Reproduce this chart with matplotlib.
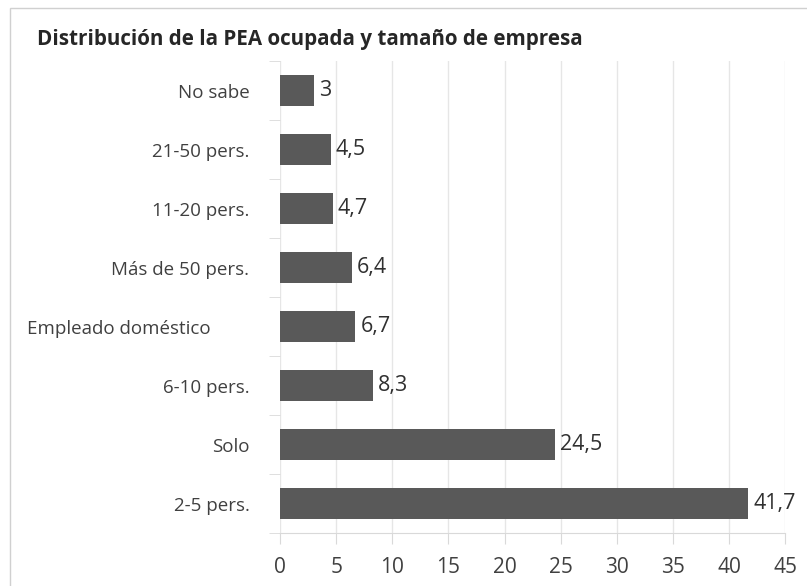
import matplotlib.pyplot as plt
from matplotlib.patches import Rectangle
from matplotlib.transforms import ScaledTranslation

categorias = ["No sabe", "21-50 pers.", "11-20 pers.", "Más de 50 pers.",
              "Empleado doméstico", "6-10 pers.", "Solo", "2-5 pers."]
valores = [3, 4.5, 4.7, 6.4, 6.7, 8.3, 24.5, 41.7]
etiquetas = ["3", "4,5", "4,7", "6,4", "6,7", "8,3", "24,5", "41,7"]
ticks_x = [0, 5, 10, 15, 20, 25, 30, 35, 40, 45]

plt.rcParams['font.family'] = ['Open Sans', 'DejaVu Sans']

fig = plt.figure(figsize=(8.07, 5.86), dpi=100)
ax = fig.add_axes([0.347, 0.0904, 0.626, 0.805])

fig.patches.append(Rectangle((0.012, -0.01), 0.99, 0.997, transform=fig.transFigure,
                             fill=False, edgecolor='#d0d0d0', linewidth=1))

y = list(range(len(categorias)))
ax.barh(y, valores, height=0.525, color='#595959', zorder=3)
for yi, v, t in zip(y, valores, etiquetas):
    ax.text(v + 0.45, yi, t, va='center', ha='left', fontsize=15.5, color='#303030')

ax.set_yticks(y)
ax.set_yticklabels(categorias, fontsize=13.5, color='#404040')
ax.set_ylim(len(categorias) - 0.5, -0.5)
ax.set_yticks([i + 0.5 for i in range(-1, len(categorias))], minor=True)
ax.tick_params(axis='y', which='major', length=0, pad=22)
ax.tick_params(axis='y', which='minor', length=8, color='#d9d9d9')

# the long label sits further left in the original
lab = ax.get_yticklabels()[4]
lab.set_transform(lab.get_transform() + ScaledTranslation(-0.39, 0, fig.dpi_scale_trans))

ax.set_xlim(0, 45)
ax.set_xticks(ticks_x)
ax.set_xticklabels([str(t) for t in ticks_x], fontsize=15, color='#404040')
ax.tick_params(axis='x', length=8, color='#d9d9d9', pad=9)
ax.grid(axis='x', color='#e6e6e6', linewidth=1, zorder=0)

for s in ['top', 'right', 'left']:
    ax.spines[s].set_visible(False)
ax.spines['bottom'].set_color('#d9d9d9')

fig.text(0.046, 0.932, "Distribución de la PEA ocupada y tamaño de empresa",
         fontsize=14.9, fontweight='bold', color='#262626', va='center')

fig.savefig('out.png', dpi=100)
